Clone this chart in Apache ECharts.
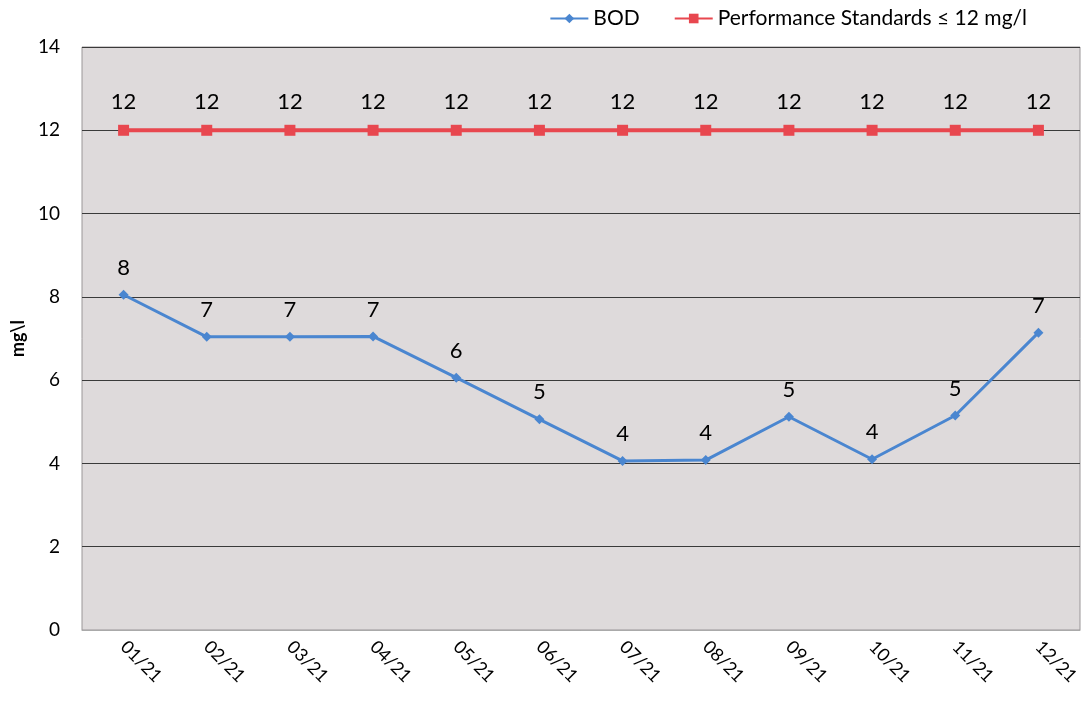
<!DOCTYPE html>
<html>
<head>
<meta charset="utf-8">
<script src="https://cdn.jsdelivr.net/npm/echarts@6/dist/echarts.min.js"></script>
<style>
  html, body { margin: 0; padding: 0; background: #fff; }
  #chart { width: 1092px; height: 704px; }
</style>
</head>
<body>
<div id="chart"></div>
<script>
var months = ['01/21', '02/21', '03/21', '04/21', '05/21', '06/21', '07/21', '08/21', '09/21', '10/21', '11/21', '12/21'];
var bod = [8.05, 7.04, 7.04, 7.05, 6.06, 5.06, 4.06, 4.08, 5.12, 4.1, 5.15, 7.14];
var standard = [12, 12, 12, 12, 12, 12, 12, 12, 12, 12, 12, 12];

var myChart = echarts.init(document.getElementById('chart'));
var font = 'Lato, "Liberation Sans", sans-serif';

var option = {
  textStyle: { fontFamily: font },
  legend: {
    top: 3,
    right: 60,
    itemWidth: 38,
    itemHeight: 12,
    itemGap: 34,
    textStyle: { fontSize: 21, color: '#000', fontFamily: font },
    data: ['BOD', 'Performance Standards ≤ 12 mg/l']
  },
  grid: {
    left: 82,
    right: 12,
    top: 47,
    bottom: 74,
    show: true,
    backgroundColor: '#dedadb',
    borderColor: '#9a9698',
    borderWidth: 1
  },
  xAxis: {
    type: 'category',
    data: months,
    boundaryGap: true,
    axisLine: { show: true, lineStyle: { color: '#aaa' } },
    axisTick: { show: false },
    axisLabel: {
      rotate: -45,
      fontSize: 18,
      color: '#000',
      margin: 14
    }
  },
  yAxis: {
    type: 'value',
    min: 0,
    max: 14,
    interval: 2,
    name: 'mg\\l',
    nameLocation: 'middle',
    nameRotate: 90,
    nameGap: 50,
    nameTextStyle: { fontSize: 18, fontWeight: 'bold', color: '#000' },
    axisLine: { show: false },
    axisTick: { show: false },
    axisLabel: { fontSize: 19, color: '#000', margin: 22 },
    splitLine: { lineStyle: { color: '#3a3a3a', width: 1 } }
  },
  series: [
    {
      name: 'BOD',
      type: 'line',
      data: bod,
      color: '#4a86d0',
      symbol: 'diamond',
      symbolSize: 10,
      lineStyle: { width: 3, color: '#4a86d0' },
      label: {
        show: true,
        position: 'top',
        distance: 11,
        fontSize: 22,
        color: '#000',
        formatter: function (p) { return Math.round(p.value); }
      }
    },
    {
      name: 'Performance Standards ≤ 12 mg/l',
      type: 'line',
      data: standard,
      color: '#e8474f',
      symbol: 'rect',
      symbolSize: 11,
      lineStyle: { width: 4, color: '#e8474f' },
      label: {
        show: true,
        position: 'top',
        distance: 12,
        fontSize: 22,
        color: '#000'
      }
    }
  ]
};

myChart.setOption(option);
window.addEventListener('resize', function () {
  myChart.resize();
});
</script>
</body>
</html>
